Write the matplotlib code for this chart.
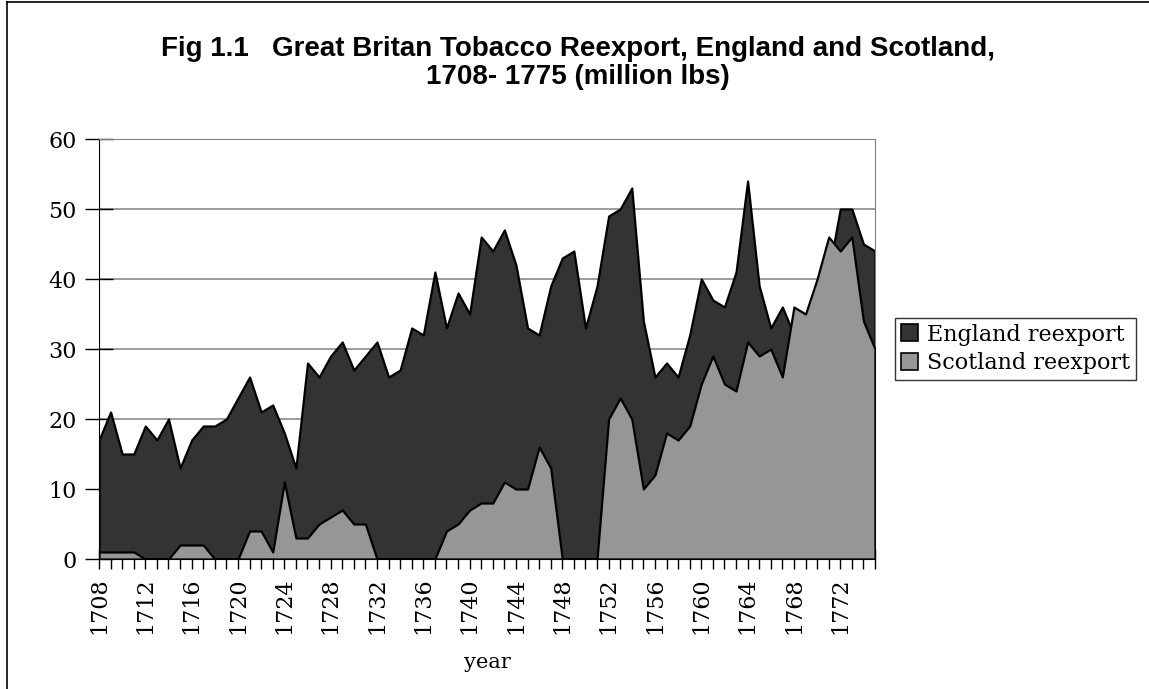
import numpy as np
import matplotlib
matplotlib.use("Agg")
import matplotlib.pyplot as plt
from matplotlib.patches import Patch
from matplotlib.lines import Line2D

# =========================
# Data (million lbs)
# =========================
years = list(range(1708, 1776))

england = [17, 21, 15, 15, 19, 17, 20, 13, 17, 19,   # 1708-1717
           19, 20, 23, 26, 21, 22, 18, 13, 28, 26,   # 1718-1727
           29, 31, 27, 29, 31, 26, 27, 33, 32, 41,   # 1728-1737
           33, 38, 35, 46, 44, 47, 42, 33, 32, 39,   # 1738-1747
           43, 44, 33, 39, 49, 50, 53, 34, 26, 28,   # 1748-1757
           26, 32, 40, 37, 36, 41, 54, 39, 33, 36,   # 1758-1767
           32, 33, 37, 41, 50, 50, 45, 44]           # 1768-1775

scotland = [1, 1, 1, 1, 0, 0, 0, 2, 2, 2,
            0, 0, 0, 4, 4, 1, 11, 3, 3, 5,
            6, 7, 5, 5, 0, 0, 0, 0, 0, 0,
            4, 5, 7, 8, 8, 11, 10, 10, 16, 13,
            0, 0, 0, 0, 20, 23, 20, 10, 12, 18,
            17, 19, 25, 29, 25, 24, 31, 29, 30, 26,
            36, 35, 40, 46, 44, 46, 34, 30]

tick_labels = [str(y) if (y - 1708) % 4 == 0 else "" for y in years]

title = ("Fig 1.1   Great Britan Tobacco Reexport, England and Scotland,\n"
         "1708- 1775 (million lbs)")

# =========================
# Plot
# =========================
serif = ["DejaVu Serif"]
fig = plt.figure(figsize=(11.49, 6.89), dpi=100)
ax = fig.add_axes([99 / 1149, 1 - 559 / 689, 776 / 1149, 420 / 689])

ax.fill_between(years, england, 0, facecolor="#333333", edgecolor="black",
                linewidth=1.6, zorder=2)
ax.fill_between(years, scotland, 0, facecolor="#969696", edgecolor="black",
                linewidth=1.6, zorder=3)

ax.set_xlim(1708, 1775)
ax.set_ylim(0, 60)
ax.set_yticks(range(0, 61, 10))
ax.set_xticks(years)
ax.set_xticklabels(tick_labels, rotation=90, family=serif, fontsize=16)
for lab in ax.get_yticklabels():
    lab.set_family(serif)
    lab.set_fontsize(16)

ax.grid(axis="y", color="#808080", linewidth=1.1, zorder=1)
ax.set_axisbelow(True)
ax.tick_params(axis="x", direction="inout", length=14, width=1, pad=6)
ax.tick_params(axis="y", direction="inout", length=20, width=1, pad=6)

ax.spines["top"].set_color("#808080")
ax.spines["right"].set_color("#808080")
ax.spines["left"].set_color("black")
ax.spines["bottom"].set_color("black")
ax.spines["bottom"].set_zorder(5)

ax.set_xlabel("year", family=serif, fontsize=15, labelpad=14)

fig.text(578 / 1149, 1 - 36 / 689, title, ha="center", va="top",
         fontsize=20, fontweight="bold", family="Liberation Sans",
         linespacing=1.1)

handles = [Patch(facecolor="#333333", edgecolor="black", linewidth=1.2),
           Patch(facecolor="#969696", edgecolor="black", linewidth=1.2)]
leg = fig.legend(handles, ["England reexport", "Scotland reexport"],
                 loc="center left", bbox_to_anchor=(895 / 1149, 1 - 349 / 689),
                 prop={"family": serif, "size": 16}, frameon=True,
                 fancybox=False, edgecolor="black", handlelength=0.8,
                 handleheight=0.8, handletextpad=0.4, borderpad=0.25,
                 labelspacing=0.3, borderaxespad=0)
leg.get_frame().set_linewidth(1.0)

# chart area border (left and top edges)
fig.add_artist(Line2D([7 / 1149, 7 / 1149], [0, 1 - 2 / 689],
                      transform=fig.transFigure, color="black", linewidth=1.2))
fig.add_artist(Line2D([7 / 1149, 1], [1 - 2 / 689, 1 - 2 / 689],
                      transform=fig.transFigure, color="black", linewidth=1.2))

fig.savefig("out.png", dpi=100)
